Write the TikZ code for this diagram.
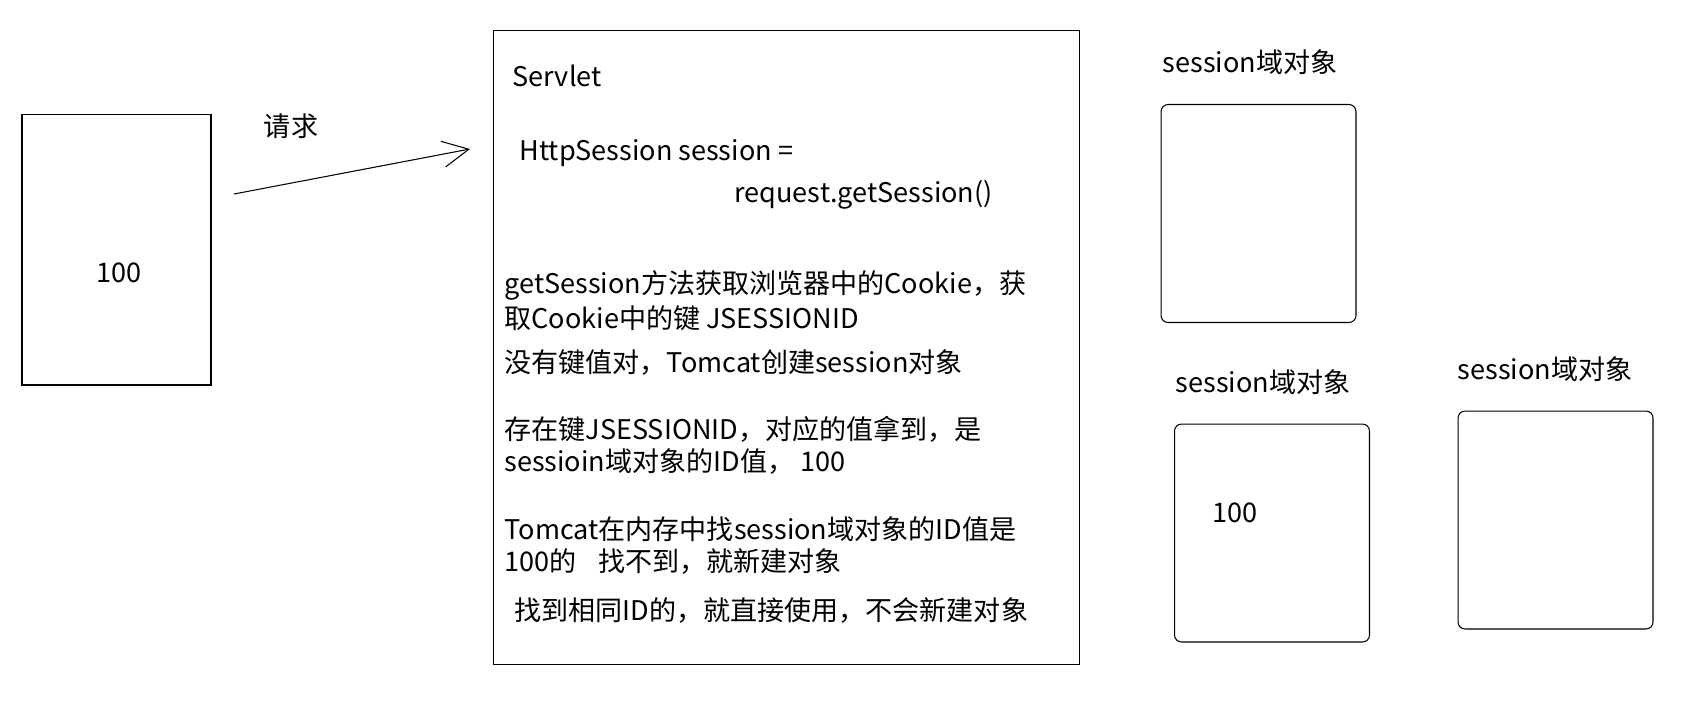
\documentclass[tikz,border=0pt]{standalone}
\usepackage{fontspec}
\setmainfont{Noto Sans CJK SC}
\usetikzlibrary{arrows.meta,positioning}

\begin{document}
\begin{tikzpicture}[x=0.02cm,y=-0.02cm,font=\fontsize{15.4}{18}\selectfont,line width=0.6pt,
 plain/.style={draw,inner sep=0pt},
 sbox/.style={draw,rounded corners=4pt,inner sep=0pt,minimum width=3.9cm,minimum height=4.36cm},
 txt/.style={anchor=west,inner sep=0pt},
 flow/.style={-{Straight Barb[length=5.2mm,width=5.2mm]}}]
\useasboundingbox (0,0) rectangle (1693,707);
% browser
\node[plain,minimum width=3.78cm,minimum height=5.42cm] (browser) at (116.5,249.5) {};
\node (cookie) at (119,273) {100};
\node (req) at (291,126) {请求};
\coordinate (reqfrom) at (234,194);
\coordinate (reqto) at (470,149);
\draw[flow] (reqfrom) -- (reqto);
% servlet
\node[plain,minimum width=11.74cm,minimum height=12.7cm] (servlet) at (786.5,347.5) {};
\node[txt] (title) at (512,76) {Servlet};
\node[txt] (code1) at (519,153) {HttpSession session =};
\node[txt] (code2) at (734,195) {request.getSession()};
\node[txt] (get1) at (504,285) {getSession方法获取浏览器中的Cookie，获};
\node[txt] (get2) at (504,318) {取Cookie中的键 JSESSIONID};
\node[txt] (none) at (504,363) {没有键值对，Tomcat创建session对象};
\node[txt] (has1) at (504,429) {存在键JSESSIONID，对应的值拿到，是};
\node[txt] (has2) at (504,462) {sessioin域对象的ID值，\ 100};
\node[txt] (find1) at (504,529) {Tomcat在内存中找session域对象的ID值是};
\node[txt] (find2) at (504,562) {100的\hspace{0.8em}找不到，就新建对象};
\node[txt] (found) at (514,611) {找到相同ID的，就直接使用，不会新建对象};
% session objects
\node[sbox] (s1) at (1258.5,213.5) {};
\node[sbox] (s2) at (1272,533) {};
\node[sbox] (s3) at (1555.5,520) {};
\node (l1) at (1250,62) {session域对象};
\node (l2) at (1263,382) {session域对象};
\node (l3) at (1545,369) {session域对象};
\node (sid) at (1235,513) {100};
\end{tikzpicture}
\end{document}
